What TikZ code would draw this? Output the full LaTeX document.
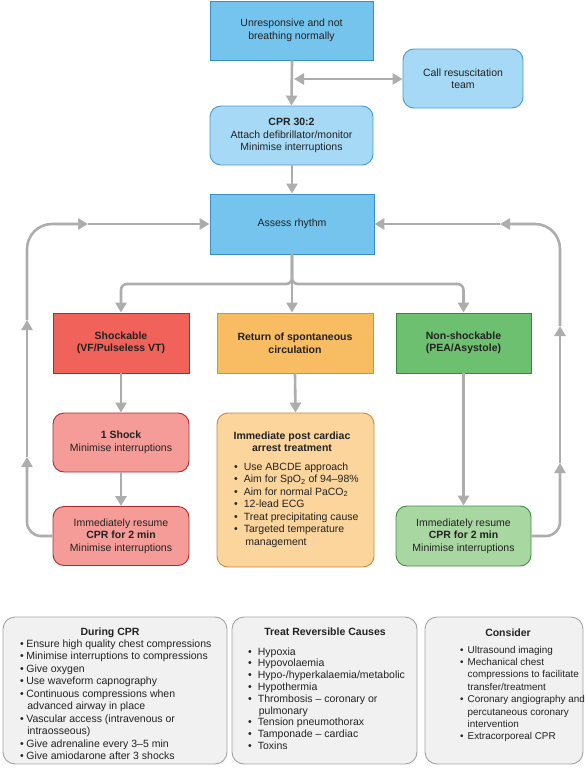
\documentclass[tikz,border=0pt]{standalone}
\usepackage{fontspec}
\setmainfont{Liberation Sans}
\usetikzlibrary{arrows.meta}
\definecolor{blueF}{HTML}{74C4EE}
\definecolor{blueD}{HTML}{3B8DC8}
\definecolor{lblueF}{HTML}{A6D9F5}
\definecolor{lblueD}{HTML}{4A9AD0}
\definecolor{redF}{HTML}{F0625A}
\definecolor{redD}{HTML}{B3262C}
\definecolor{lredF}{HTML}{F59C98}
\definecolor{lredD}{HTML}{B02A30}
\definecolor{orF}{HTML}{F8BC62}
\definecolor{orD}{HTML}{D4903E}
\definecolor{lorF}{HTML}{FCD59D}
\definecolor{lorD}{HTML}{C98A3C}
\definecolor{grF}{HTML}{6DC06F}
\definecolor{grD}{HTML}{2F8A3F}
\definecolor{lgrF}{HTML}{A9D7A1}
\definecolor{lgrD}{HTML}{3E8E48}
\definecolor{grayF}{HTML}{F1F1F1}
\definecolor{grayD}{HTML}{A3A3A3}
\definecolor{arrc}{HTML}{ADADAD}
\definecolor{txt}{HTML}{222222}
\newcommand{\mybul}{\textbullet}
\begin{document}
\begin{tikzpicture}[x=1pt,y=-1pt,
  fbox/.style={draw, line width=0.9pt, inner sep=0pt, align=center, text=txt,
    font=\fontsize{10.5}{12.5}\selectfont},
  rbox/.style={fbox, rounded corners=11pt},
  arr/.style={draw=arrc, line width=2.6pt, -{Triangle[width=11pt,length=10pt]}},
  darr/.style={draw=arrc, line width=2.6pt, {Triangle[width=11pt,length=10pt]}-{Triangle[width=11pt,length=10pt]}},
  ln/.style={draw=arrc, line width=2.6pt},
  lbox/.style={draw=grayD, fill=grayF, line width=0.9pt, rounded corners=12pt, inner sep=0pt},
  head/.style={font=\fontsize{10.5}{12.5}\selectfont\bfseries, text=txt, inner sep=0pt, anchor=base},
  blist/.style={inner sep=0pt, anchor=base west, text=txt}
]
\useasboundingbox (0,0) rectangle (586,771);

% flow boxes
\node[fbox, fill=blueF, draw=blueD, minimum width=163pt, minimum height=59pt] (top) at (291.5,30.5)
  {Unresponsive and not\\breathing normally};
\node[rbox, fill=lblueF, draw=lblueD, minimum width=120pt, minimum height=59pt] (call) at (463,78.5)
  {Call resuscitation\\team};
\node[rbox, fill=lblueF, draw=lblueD, minimum width=163pt, minimum height=59pt] (cpr) at (291.5,135.5)
  {\textbf{CPR 30:2}\\Attach defibrillator/monitor\\Minimise interruptions};
\node[fbox, fill=blueF, draw=blueD, minimum width=164pt, minimum height=60pt] (assess) at (292,224)
  {Assess rhythm};
\node[fbox, fill=redF, draw=redD, minimum width=136pt, minimum height=60pt, font=\fontsize{10.5}{12.5}\selectfont\bfseries] (shock) at (121,343)
  {Shockable\\(VF/Pulseless VT)};
\node[fbox, fill=orF, draw=orD, minimum width=156pt, minimum height=60pt, font=\fontsize{10.5}{12.5}\selectfont\bfseries] (rosc) at (295,343)
  {Return of spontaneous\\circulation};
\node[fbox, fill=grF, draw=grD, minimum width=135pt, minimum height=60pt, font=\fontsize{10.5}{12.5}\selectfont\bfseries] (nonsh) at (463.5,343)
  {Non-shockable\\(PEA/Asystole)};
\node[rbox, fill=lredF, draw=lredD, minimum width=136pt, minimum height=59pt] (oneshock) at (121,442.5)
  {\textbf{1 Shock}\\Minimise interruptions};
\node[rbox, fill=lredF, draw=lredD, minimum width=136pt, minimum height=59pt] (lres) at (121,536)
  {Immediately resume\\\textbf{CPR for 2 min}\\Minimise interruptions};
\node[rbox, fill=lorF, draw=lorD, minimum width=157pt, minimum height=154pt] (post) at (295.5,490) {};
\node[rbox, fill=lgrF, draw=lgrD, minimum width=135pt, minimum height=60pt] (rres) at (463.5,536)
  {Immediately resume\\\textbf{CPR for 2 min}\\Minimise interruptions};

% post box contents
\node[head] (posth) at (292,439) {\begin{tabular}[t]{@{}c@{}}Immediate post cardiac\\arrest treatment\end{tabular}};
\node[blist, font=\fontsize{10.5}{12.5}\selectfont] (postl) at (234,470) {\begin{tabular}[t]{@{}l@{\hspace{6pt}}l@{}}
\mybul & Use ABCDE approach\\
\mybul & Aim for SpO\textsubscript{2} of 94–98\%\\
\mybul & Aim for normal PaCO\textsubscript{2}\\
\mybul & 12-lead ECG\\
\mybul & Treat precipitating cause\\
\mybul & Targeted temperature\\
 & \hspace{1.5pt}management
\end{tabular}};

% bottom boxes
\node[lbox, minimum width=224pt, minimum height=147pt] (during) at (115,690.5) {};
\node[lbox, minimum width=185pt, minimum height=147pt] (treat) at (324.5,690.5) {};
\node[lbox, minimum width=158pt, minimum height=147pt] (consider) at (504,690.5) {};

\node[head] (duringh) at (110,635) {During CPR};
\node[blist, font=\fontsize{10.5}{12.5}\selectfont] (duringl) at (20,647) {\begin{tabular}[t]{@{}l@{\hspace{2.5pt}}l@{}}
\mybul & Ensure high quality chest compressions\\
\mybul & Minimise interruptions to compressions\\
\mybul & Give oxygen\\
\mybul & Use waveform capnography\\
\mybul & Continuous compressions when\\
 & \hspace{1pt}advanced airway in place\\
\mybul & Vascular access (intravenous or\\
 & \hspace{1pt}intraosseous)\\
\mybul & Give adrenaline every 3–5 min\\
\mybul & Give amiodarone after 3 shocks
\end{tabular}};

\node[head] (treath) at (325,635) {Treat Reversible Causes};
\node[blist, font=\fontsize{10.5}{11.8}\selectfont] (treatl) at (248,655) {\begin{tabular}[t]{@{}l@{\hspace{6pt}}l@{}}
\mybul & Hypoxia\\
\mybul & Hypovolaemia\\
\mybul & Hypo-/hyperkalaemia/metabolic\\
\mybul & Hypothermia\\
\mybul & Thrombosis – coronary or\\
 & \hspace{1pt}pulmonary\\
\mybul & Tension pneumothorax\\
\mybul & Tamponade – cardiac\\
\mybul & Toxins
\end{tabular}};

\node[head] (considerh) at (508,636) {Consider};
\node[blist, font=\fontsize{9.9}{12.4}\selectfont] (considerl) at (460,653) {\begin{tabular}[t]{@{}l@{\hspace{4pt}}l@{}}
\mybul & Ultrasound imaging\\
\mybul & Mechanical chest\\
 & compressions to facilitate\\
 & transfer/treatment\\
\mybul & Coronary angiography and\\
 & percutaneous coronary\\
 & intervention\\
\mybul & Extracorporeal CPR
\end{tabular}};

% connectors
\coordinate (j) at (294,79);
\coordinate (br) at (292,284);
\coordinate (la) at (27,457);
\coordinate (lb) at (27,320);
\coordinate (lc) at (88,224);
\coordinate (ra) at (560,463);
\coordinate (rb) at (560,326);
\coordinate (rc) at (500,224);

\draw[arr] (top.south -| j) ++(-2,0) -- (cpr.north);
\draw[darr] (j) -- (j -| call.west);
\draw[arr] (cpr.south -| assess.north) -- (assess.north);
\draw[arr, rounded corners=6pt] (assess.south) -- (br) -| (shock.north);
\draw[arr, rounded corners=6pt] (assess.south) -- (br) -| (nonsh.north);
\draw[arr] (assess.south) -- (assess.south |- rosc.north);
\draw[arr] (shock.south) -- (oneshock.north);
\draw[arr] (oneshock.south) -- (lres.north);
\draw[arr] (rosc.south) -- (post.north);
\draw[arr] (nonsh.south) -- (rres.north);

\draw[arr, rounded corners=14pt] (lres.west) -| (la);
\draw[arr] (la) -- (lb);
\draw[arr, rounded corners=25pt] (lb) |- (lc);
\draw[arr] (lc) -- (assess.west);

\draw[arr, rounded corners=14pt] (rres.east) -| (ra);
\draw[arr] (ra) -- (rb);
\draw[arr, rounded corners=25pt] (rb) |- (rc);
\draw[arr] (rc) -- (assess.east);
\end{tikzpicture}
\end{document}
